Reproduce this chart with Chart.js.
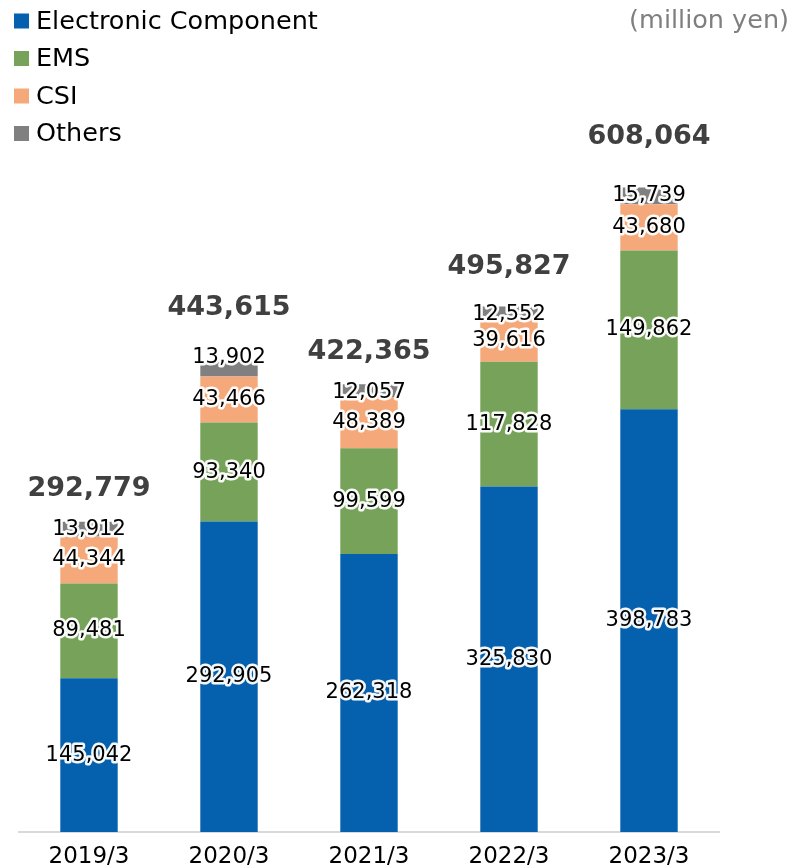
<!DOCTYPE html>
<html>
<head>
<meta charset="utf-8">
<script src="https://cdn.jsdelivr.net/npm/chart.js@4"></script>
<style>
  html, body { margin: 0; padding: 0; background: #fff; }
  #wrap { width: 794px; height: 868px; position: relative; }
</style>
</head>
<body>
<div id="wrap"><canvas id="myChart" width="794" height="868"></canvas></div>
<script>
// data (million yen)
var years = ['2019/3', '2020/3', '2021/3', '2022/3', '2023/3'];
var electronic = [145042, 292905, 262318, 325830, 398783];
var ems = [89481, 93340, 99599, 117828, 149862];
var csi = [44344, 43466, 48389, 39616, 43680];
var others = [13912, 13902, 12057, 12552, 15739];
var totals = [292779, 443615, 422365, 495827, 608064];

var FONT = '"DejaVu Sans", Verdana, sans-serif';

// label placement tweaks (style, not data)
var totalLift = [33, 54, 32, 39, 50];
var othersAbove = [false, true, false, false, false];

function fmt(v) {
    return v.toLocaleString('en-US');
}

// value labels inside segments + totals on top
var labelPlugin = {
    id: 'labelPlugin',
    afterDatasetsDraw: function (chart) {
        var ctx = chart.ctx;
        ctx.save();
        ctx.textAlign = 'center';
        ctx.textBaseline = 'middle';
        ctx.lineJoin = 'round';
        ctx.font = '21px ' + FONT;
        chart.data.datasets.forEach(function (ds, di) {
            var meta = chart.getDatasetMeta(di);
            meta.data.forEach(function (bar, i) {
                var y = (bar.y + bar.base) / 2;
                if (di === 3) {
                    y = othersAbove[i] ? bar.y - 4 : bar.y + 8;
                }
                ctx.strokeStyle = 'rgba(255,255,255,0.95)';
                ctx.lineWidth = 5;
                ctx.strokeText(fmt(ds.data[i]), bar.x, y);
                ctx.fillStyle = '#000';
                ctx.fillText(fmt(ds.data[i]), bar.x, y);
            });
        });
        // totals
        var top = chart.getDatasetMeta(chart.data.datasets.length - 1);
        ctx.font = 'bold 27px ' + FONT;
        ctx.fillStyle = '#404040';
        top.data.forEach(function (bar, i) {
            ctx.fillText(fmt(totals[i]), bar.x, bar.y - totalLift[i]);
        });
        ctx.restore();
    }
};

// vertical legend in the top-left corner + unit note
var legendPlugin = {
    id: 'legendPlugin',
    afterDraw: function (chart) {
        var ctx = chart.ctx;
        ctx.save();
        ctx.textBaseline = 'middle';
        ctx.font = '25.5px ' + FONT;
        chart.data.datasets.forEach(function (ds, di) {
            var y = 21 + di * 37.5;
            ctx.fillStyle = ds.backgroundColor;
            ctx.fillRect(14, y - 7.5, 15, 15);
            ctx.fillStyle = '#000';
            ctx.textAlign = 'left';
            ctx.fillText(ds.label, 36, y + 1);
        });
        ctx.fillStyle = '#7f7f7f';
        ctx.textAlign = 'right';
        ctx.fillText('(million yen)', 789, 21);
        ctx.restore();
    }
};

var ctx = document.getElementById('myChart').getContext('2d');
new Chart(ctx, {
    type: 'bar',
    data: {
        labels: years,
        datasets: [
            { label: 'Electronic Component', data: electronic, backgroundColor: '#0560ae' },
            { label: 'EMS', data: ems, backgroundColor: '#77a25a' },
            { label: 'CSI', data: csi, backgroundColor: '#f5a97a' },
            { label: 'Others', data: others, backgroundColor: '#808080' }
        ]
    },
    options: {
        responsive: false,
        animation: false,
        layout: { padding: { top: 90, left: 19, right: 75, bottom: 0 } },
        datasets: {
            bar: { barPercentage: 0.41, categoryPercentage: 1 }
        },
        plugins: {
            legend: { display: false },
            tooltip: { enabled: false }
        },
        scales: {
            x: {
                stacked: true,
                grid: { display: false, drawTicks: false },
                border: { display: true, color: '#d9d9d9', width: 2 },
                ticks: { color: '#000', font: { family: FONT, size: 23, lineHeight: 1 }, padding: 14 },
                afterFit: function (scale) { scale.height = 36; }
            },
            y: {
                stacked: true,
                display: false,
                min: 0,
                max: 700000
            }
        }
    },
    plugins: [labelPlugin, legendPlugin]
});
</script>
</body>
</html>
